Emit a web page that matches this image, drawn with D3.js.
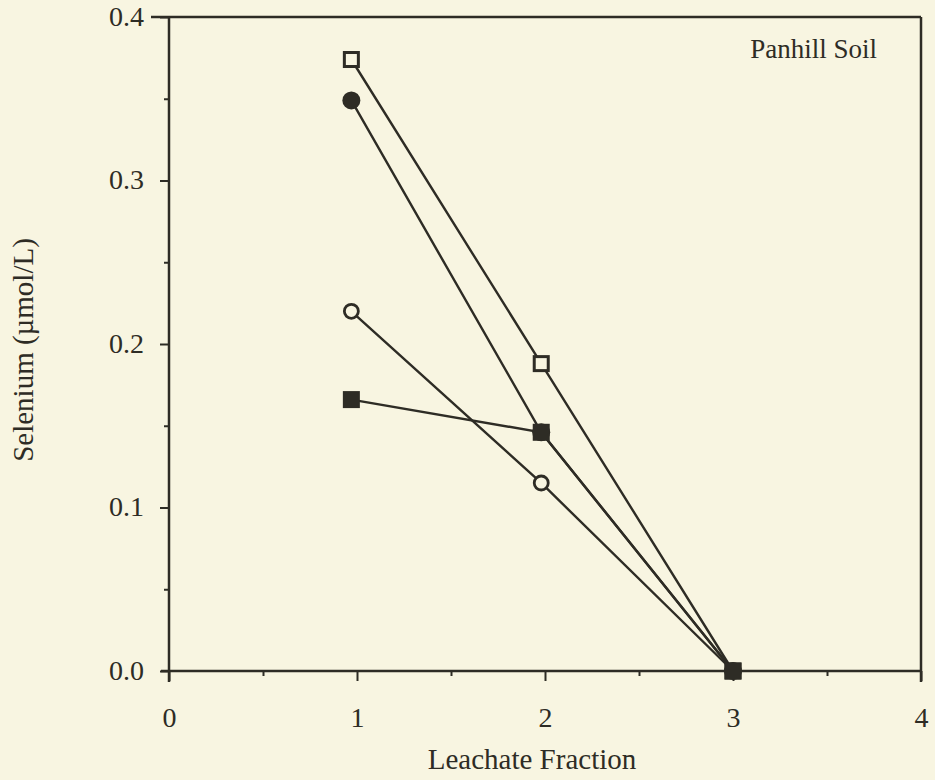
<!DOCTYPE html>
<html><head><meta charset="utf-8">
<script src="https://cdn.jsdelivr.net/npm/d3@7"></script>
<style>
html,body{margin:0;padding:0;background:#f8f5e1;}
svg{display:block;}
text{font-family:"Liberation Serif","DejaVu Serif",serif;fill:#2e2c25;}
</style></head>
<body>
<svg id="chart" width="935" height="780"></svg>
<script>
// Data
const fractions = [0.97, 1.98, 3];
const openSquare   = [0.374, 0.188, 0];
const filledCircle = [0.349, 0.146, 0];
const openCircle   = [0.220, 0.115, 0];
const filledSquare = [0.166, 0.146, 0];
const xTicks = [0, 1, 2, 3, 4];
const yTicks = [0.0, 0.1, 0.2, 0.3, 0.4];
const xTitle = "Leachate Fraction";
const yTitle = "Selenium (\u00b5mol/L)";
const panelLabel = "Panhill Soil";

const ink = "#2e2c25";
const bg = "#f8f5e1";
const svg = d3.select("#chart");
const m = {left:169, right:921, top:17, bottom:671};
const x = d3.scaleLinear().domain([0,4]).range([m.left, m.right]);
const y = d3.scaleLinear().domain([0,0.4]).range([m.bottom, m.top]);

// frame
svg.append("line").attr("x1", m.left-18).attr("x2", m.right).attr("y1", m.top).attr("y2", m.top)
  .attr("stroke", ink).attr("stroke-width", 2.5);
svg.append("line").attr("x1", m.right).attr("x2", m.right).attr("y1", m.top).attr("y2", m.bottom+11)
  .attr("stroke", ink).attr("stroke-width", 2.5);

// x axis
const xAxis = d3.axisBottom(x).tickValues(xTicks).tickFormat(d3.format("d")).tickSize(10);
const xa = svg.append("g").attr("transform", `translate(0,${m.bottom})`).call(xAxis);
xa.select(".domain").attr("d", `M${m.left-8},0H${m.right}`).attr("stroke", ink).attr("stroke-width", 2.5);
xa.selectAll(".tick line").attr("stroke", ink).attr("stroke-width", 2);
xa.selectAll(".tick text").attr("font-size", 28).attr("fill", ink).attr("y", 56).attr("dy", 0);
const xMinor = d3.axisBottom(x).tickValues([0.5,1.5,2.5,3.5]).tickSize(5).tickFormat("");
const xm = svg.append("g").attr("transform", `translate(0,${m.bottom})`).call(xMinor);
xm.select(".domain").remove();
xm.selectAll(".tick line").attr("stroke", ink).attr("stroke-width", 2);

// y axis
const yAxis = d3.axisLeft(y).tickValues(yTicks).tickFormat(d3.format(".1f")).tickSize(9).tickPadding(16);
const ya = svg.append("g").attr("transform", `translate(${m.left},0)`).call(yAxis);
ya.select(".domain").attr("d", `M0,${m.top}V${m.bottom+11}`).attr("stroke", ink).attr("stroke-width", 2.5);
ya.selectAll(".tick line").attr("stroke", ink).attr("stroke-width", 2);
ya.selectAll(".tick text").attr("font-size", 28).attr("fill", ink).attr("dy", "0.3em");
const yMinor = d3.axisLeft(y).tickValues([0.05,0.15,0.25,0.35]).tickSize(5).tickFormat("");
const ym = svg.append("g").attr("transform", `translate(${m.left},0)`).call(yMinor);
ym.select(".domain").remove();
ym.selectAll(".tick line").attr("stroke", ink).attr("stroke-width", 2);

// titles
svg.append("text").attr("x", 532).attr("y", 769).attr("text-anchor", "middle")
  .attr("font-size", 29).text(xTitle);
svg.append("text").attr("transform", "translate(33,350) rotate(-90)").attr("text-anchor", "middle")
  .attr("font-size", 29).text(yTitle);
svg.append("text").attr("x", 877).attr("y", 58).attr("text-anchor", "end")
  .attr("font-size", 27).text(panelLabel);

// series
const series = [
  {vals: openSquare, shape: "square", fill: false},
  {vals: filledCircle, shape: "circle", fill: true},
  {vals: openCircle, shape: "circle", fill: false},
  {vals: filledSquare, shape: "square", fill: true}
];
const line = d3.line().x((d,i)=>x(fractions[i])).y(d=>y(d));
series.forEach(s => {
  svg.append("path").attr("d", line(s.vals)).attr("fill","none").attr("stroke", ink).attr("stroke-width", 2.4);
});
series.forEach(s => {
  const pts = svg.append("g").selectAll("g").data(s.vals).join("g")
    .attr("transform", (d,i)=>`translate(${x(fractions[i])},${y(d)})`);
  if (s.shape === "square") {
    const sz = s.fill ? 17 : 14;
    pts.append("rect").attr("x", -sz/2).attr("y", -sz/2).attr("width", sz).attr("height", sz)
      .attr("fill", s.fill ? ink : bg).attr("stroke", ink).attr("stroke-width", s.fill ? 0 : 3);
  } else {
    pts.append("circle").attr("r", s.fill ? 9 : 7)
      .attr("fill", s.fill ? ink : bg).attr("stroke", ink).attr("stroke-width", s.fill ? 0 : 2.8);
  }
});
</script>
</body></html>
